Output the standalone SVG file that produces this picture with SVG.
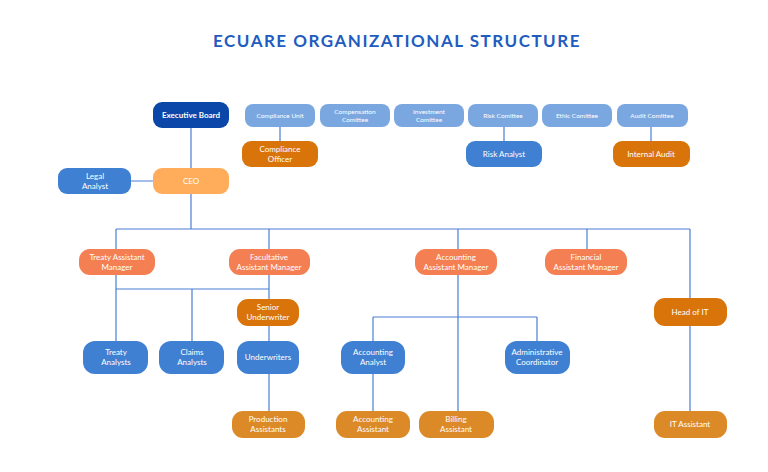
<svg xmlns="http://www.w3.org/2000/svg" width="768" height="472" viewBox="0 0 768 472">
<style>
text{font-family:Lato,"Open Sans","Liberation Sans",sans-serif;fill:#fff;text-anchor:middle;font-size:8px}
.t{fill:#1f5cc0;font-size:17px;font-weight:bold;letter-spacing:1.5px}
.c text{font-size:6.5px}
.l{stroke:#4a7fd4;stroke-width:1.2;fill:none}
.db{fill:#0a47a8}.lb{fill:#7ba7e0}.bl{fill:#3f80d2}.or{fill:#d9740a}.lo{fill:#ffad5b}.co{fill:#f47f52}.go{fill:#dc8a28}
</style>
<text class="t" x="397" y="47">ECUARE ORGANIZATIONAL STRUCTURE</text>
<g id="connectors" class="l">
<path d="M191 128V168M191 194V229M116 229H690M131 181H153M280 127V141M504 127V141M651 127V141"/>
<path d="M116 229V249M269 229V249M458 229V249M587 229V249M690 229V298M690 326V411"/>
<path d="M116 275V341M116 289H269M192 289V341M269 275V299M269 326V341M269 374V411"/>
<path d="M458 275V411M373 317H537M373 317V341M537 317V341M373 374V411"/>
</g>
<g id="executive-board"><rect class="db" x="153" y="102" width="76" height="26" rx="9"/><text x="191" y="118" font-weight="bold">Executive Board</text></g>
<g class="c">
<g id="compliance-unit"><rect class="lb" x="245" y="104" width="70" height="23" rx="8"/><text x="280" y="118">Compliance Unit</text></g>
<g id="compensation"><rect class="lb" x="320" y="104" width="70" height="23" rx="8"/><text x="355" y="114">Compensation</text><text x="355" y="122">Comittee</text></g>
<g id="investment"><rect class="lb" x="394" y="104" width="70" height="23" rx="8"/><text x="429" y="114">Investment</text><text x="429" y="122">Comittee</text></g>
<g id="risk-comittee"><rect class="lb" x="468" y="104" width="70" height="23" rx="8"/><text x="503" y="118">Risk Comittee</text></g>
<g id="ethic"><rect class="lb" x="542" y="104" width="70" height="23" rx="8"/><text x="577" y="118">Ethic Comittee</text></g>
<g id="audit"><rect class="lb" x="617" y="104" width="71" height="23" rx="8"/><text x="652" y="118">Audit Comittee</text></g>
</g>
<g id="compliance-officer"><rect class="or" x="242" y="141" width="76" height="26" rx="9"/><text x="280" y="152">Compliance</text><text x="280" y="162">Officer</text></g>
<g id="risk-analyst"><rect class="bl" x="466" y="141" width="76" height="26" rx="9"/><text x="504" y="157">Risk Analyst</text></g>
<g id="internal-audit"><rect class="or" x="613" y="141" width="77" height="26" rx="9"/><text x="651" y="157">Internal Audit</text></g>
<g id="legal-analyst"><rect class="bl" x="58" y="168" width="73" height="26" rx="9"/><text x="95" y="179">Legal</text><text x="95" y="189">Analyst</text></g>
<g id="ceo"><rect class="lo" x="153" y="168" width="76" height="26" rx="9"/><text x="191" y="184">CEO</text></g>
<g id="treaty-am"><rect class="co" x="79" y="249" width="76" height="26" rx="11"/><text x="117" y="260">Treaty Assistant</text><text x="117" y="270">Manager</text></g>
<g id="facultative-am"><rect class="co" x="229" y="249" width="81" height="26" rx="11"/><text x="269" y="260">Facultative</text><text x="269" y="270">Assistant Manager</text></g>
<g id="accounting-am"><rect class="co" x="415" y="249" width="82" height="26" rx="11"/><text x="456" y="260">Accounting</text><text x="456" y="270">Assistant Manager</text></g>
<g id="financial-am"><rect class="co" x="545" y="249" width="82" height="26" rx="11"/><text x="586" y="260">Financial</text><text x="586" y="270">Assistant Manager</text></g>
<g id="senior-underwriter"><rect class="or" x="237" y="299" width="62" height="27" rx="11"/><text x="268" y="310">Senior</text><text x="268" y="320">Underwriter</text></g>
<g id="head-of-it"><rect class="or" x="654" y="298" width="73" height="28" rx="11"/><text x="690" y="315">Head of IT</text></g>
<g id="treaty-analysts"><rect class="bl" x="83" y="341" width="65" height="33" rx="12"/><text x="116" y="355">Treaty</text><text x="116" y="365">Analysts</text></g>
<g id="claims-analysts"><rect class="bl" x="159" y="341" width="65" height="33" rx="12"/><text x="192" y="355">Claims</text><text x="192" y="365">Analysts</text></g>
<g id="underwriters"><rect class="bl" x="237" y="341" width="62" height="33" rx="12"/><text x="268" y="360">Underwriters</text></g>
<g id="accounting-analyst"><rect class="bl" x="341" y="341" width="64" height="33" rx="12"/><text x="373" y="355">Accounting</text><text x="373" y="365">Analyst</text></g>
<g id="admin-coordinator"><rect class="bl" x="505" y="341" width="65" height="33" rx="12"/><text x="537" y="355">Administrative</text><text x="537" y="365">Coordinator</text></g>
<g id="production-assistants"><rect class="go" x="232" y="411" width="73" height="27" rx="11"/><text x="268" y="422">Production</text><text x="268" y="432">Assistants</text></g>
<g id="accounting-assistant"><rect class="go" x="336" y="411" width="74" height="27" rx="11"/><text x="373" y="422">Accounting</text><text x="373" y="432">Assistant</text></g>
<g id="billing-assistant"><rect class="go" x="419" y="411" width="75" height="27" rx="11"/><text x="456" y="422">Billing</text><text x="456" y="432">Assistant</text></g>
<g id="it-assistant"><rect class="go" x="654" y="411" width="73" height="27" rx="11"/><text x="690" y="427">IT Assistant</text></g>
</svg>
